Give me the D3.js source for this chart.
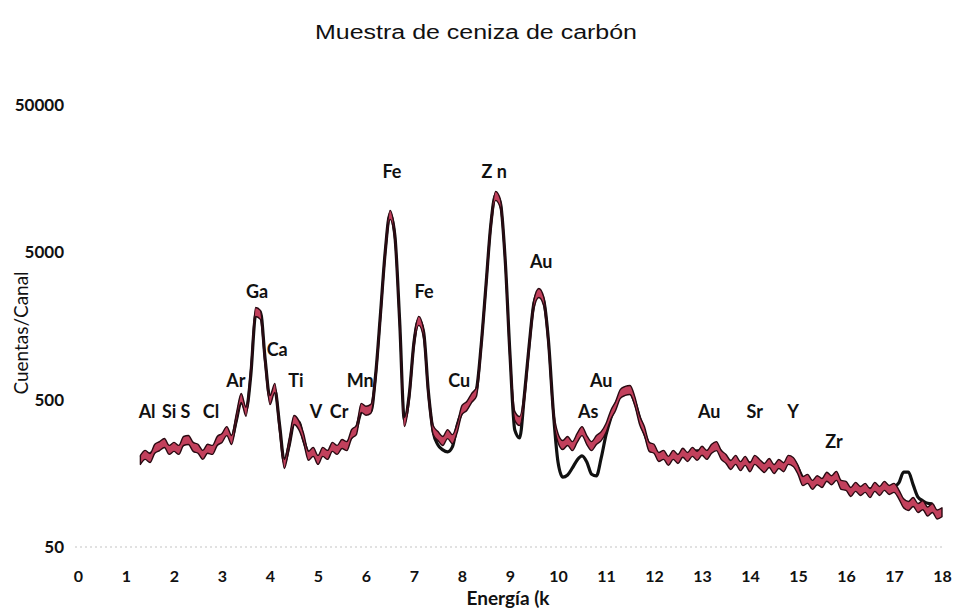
<!DOCTYPE html>
<html>
<head>
<meta charset="utf-8">
<script src="https://cdn.jsdelivr.net/npm/d3@7"></script>
<style>
  html, body { margin: 0; padding: 0; background: #fff; }
  svg { display: block; }
</style>
</head>
<body>
<svg id="chart" width="957" height="609"></svg>
<script>
// Spectrum channels: first energy (keV) and spacing between channels
const energyStart = 1.3;
const energyStep = 0.1;

// Measured counts per channel, 1.3 – 18.0 keV
const measuredCounts = [
  195, 211, 201, 232, 242, 254, 228, 239, 228, 262,   // 1.3 – 2.2
  266, 239, 232, 211, 232, 228, 262, 275, 306, 266,   // 2.3 – 3.2
  376, 513, 414, 771, 1970, 1880, 901, 497, 601, 321, // 3.3 – 4.2
  183, 254, 364, 336, 275, 208, 221, 195, 221, 211,   // 4.3 – 5.2
  239, 228, 250, 242, 292, 311, 440, 420, 433, 713,   // 5.3 – 6.2
  1821, 4953, 8975, 6461, 1685, 352, 521, 1213, 1712, 1396, // 6.3 – 7.2
  547, 311, 283, 262, 292, 270, 321, 426, 453, 513,   // 7.3 – 8.2
  564, 1157, 2957, 7555, 12075, 10655, 4370, 975, 388, 358, // 8.3 – 9.2
  521, 1140, 2232, 2650, 2339, 1226, 414, 275, 246, 262, // 9.3 – 10.2
  242, 275, 306, 266, 242, 266, 283, 321, 394, 453,   // 10.3 – 11.2
  547, 573, 582, 489, 364, 306, 239, 232, 204, 211,   // 11.3 – 12.2
  192, 211, 198, 218, 204, 221, 208, 225, 211, 232,   // 12.3 – 13.2
  242, 211, 198, 180, 195, 177, 192, 174, 195, 183,   // 13.3 – 14.2
  172, 186, 169, 183, 174, 195, 189, 167, 140, 145,   // 14.3 – 15.2
  132, 142, 136, 150, 142, 152, 132, 130, 118, 128,   // 15.3 – 16.2
  120, 126, 116, 128, 120, 130, 122, 126, 114, 99,    // 16.3 – 17.2
  95, 101, 92, 96, 87, 92, 83, 86                     // 17.3 – 18.0
];

// Fitted spectrum per channel, 1.3 – 17.8 keV
const fitCounts = [
  201, 208, 214, 225, 239, 242, 235, 228, 235, 250,   // 1.3 – 2.2
  258, 246, 228, 221, 225, 235, 254, 279, 297, 275,   // 2.3 – 3.2
  364, 489, 426, 735, 1880, 1970, 931, 513, 582, 336, // 3.3 – 4.2
  189, 246, 347, 352, 266, 218, 211, 204, 211, 221,   // 4.3 – 5.2
  228, 235, 242, 254, 279, 321, 414, 440, 414, 735,   // 5.3 – 6.2
  1880, 5030, 9115, 6560, 1738, 364, 538, 1226, 1738, 1440, // 6.3 – 7.2
  564, 302, 246, 228, 221, 239, 336, 414, 467, 497,   // 7.3 – 8.2
  582, 1176, 3000, 7670, 12260, 10820, 4437, 1006, 311, 275, // 8.3 – 9.2
  538, 1176, 2268, 2690, 2376, 1271, 426, 189, 149, 154, // 9.3 – 10.2
  172, 195, 208, 189, 156, 152, 201, 288, 376, 460,   // 10.3 – 11.2
  538, 582, 564, 482, 376, 297, 246, 225, 211, 204,   // 11.3 – 12.2
  201, 204, 208, 211, 214, 221, 225, 225, 221, 228,   // 12.3 – 13.2
  239, 221, 201, 189, 186, 186, 186, 186, 189, 186,   // 13.3 – 14.2
  180, 177, 177, 180, 183, 189, 192, 172, 147, 138,   // 14.3 – 15.2
  138, 140, 142, 145, 147, 147, 136, 128, 124, 124,   // 15.3 – 16.2
  124, 124, 124, 124, 124, 126, 126, 128, 136, 161,   // 16.3 – 17.2
  161, 132, 109, 103, 99, 98                          // 17.3 – 17.8
];

// Axis ticks
const xTickValues = [0, 1, 2, 3, 4, 5, 6, 7, 8, 9, 10, 11, 12, 13, 14, 15, 16, 17, 18];
const yTickValues = [50, 500, 5000, 50000];

// Element labels: text, energy (keV) and count level where the label sits
const elementLabels = [
  { text: "Al",  energy: 1.44,  counts: 414 },
  { text: "Si",  energy: 1.90,  counts: 414 },
  { text: "S",   energy: 2.24,  counts: 414 },
  { text: "Cl",  energy: 2.77,  counts: 414 },
  { text: "Ar",  energy: 3.29,  counts: 670 },
  { text: "Ga",  energy: 3.73,  counts: 2690 },
  { text: "Ca",  energy: 4.15,  counts: 1100 },
  { text: "Ti",  energy: 4.54,  counts: 670 },
  { text: "V",   energy: 4.96,  counts: 414 },
  { text: "Cr",  energy: 5.44,  counts: 414 },
  { text: "Mn",  energy: 5.88,  counts: 670 },
  { text: "Fe",  energy: 6.54,  counts: 17570 },
  { text: "Fe",  energy: 7.21,  counts: 2710 },
  { text: "Cu",  energy: 7.94,  counts: 670 },
  { text: "Z n", energy: 8.67,  counts: 17570 },
  { text: "Au",  energy: 9.65,  counts: 4300 },
  { text: "Au",  energy: 10.90, counts: 670 },
  { text: "As",  energy: 10.63, counts: 414 },
  { text: "Au",  energy: 13.15, counts: 414 },
  { text: "Sr",  energy: 14.10, counts: 414 },
  { text: "Y",   energy: 14.90, counts: 414 },
  { text: "Zr",  energy: 15.75, counts: 258 }
];

const titleText = "Muestra de ceniza de carbón";
const xTitle = "Energía (k";
const yTitle = "Cuentas/Canal";

// ---- layout ----
const plot = { left: 78, right: 942, top: 105, bottom: 547 };
const svg = d3.select("#chart");

const x = d3.scaleLinear().domain([0, 18]).range([plot.left, plot.right]);
const y = d3.scaleLog().domain([50, 50000]).range([plot.bottom, plot.top]);

const toPoints = arr => arr.map((c, i) => ({ e: energyStart + i * energyStep, c }));
const measured = toPoints(measuredCounts);
const fit = toPoints(fitCounts);

const labelFont = "Lato, 'Open Sans', sans-serif";

// Title
svg.append("text")
  .attr("x", 476).attr("y", 39)
  .attr("text-anchor", "middle")
  .attr("font-family", "'Liberation Sans', Arial, sans-serif")
  .attr("font-size", 20)
  .attr("textLength", 322)
  .attr("lengthAdjust", "spacingAndGlyphs")
  .attr("fill", "#111")
  .text(titleText);

// Dotted baseline along the bottom of the plot
svg.append("line")
  .attr("x1", x(0) - 3).attr("x2", x(18))
  .attr("y1", y(50)).attr("y2", y(50))
  .attr("stroke", "#c4c4c4")
  .attr("stroke-width", 1.2)
  .attr("stroke-dasharray", "2,3");

// X axis labels
const xAxis = d3.axisBottom(x).tickValues(xTickValues).tickSize(0).tickPadding(24);
const gx = svg.append("g").attr("transform", `translate(0,${plot.bottom})`).call(xAxis);
gx.select(".domain").remove();
gx.selectAll("text")
  .attr("font-family", labelFont).attr("font-size", 16).attr("font-weight", 700)
  .attr("fill", "#111");

// Y axis labels (log scale)
const yAxis = d3.axisLeft(y).tickValues(yTickValues).tickFormat(d3.format("d")).tickSize(0).tickPadding(14);
const gy = svg.append("g").attr("transform", `translate(${plot.left},0)`).call(yAxis);
gy.select(".domain").remove();
gy.selectAll("text")
  .attr("font-family", labelFont).attr("font-size", 17).attr("font-weight", 700)
  .attr("fill", "#111");

// Axis titles
svg.append("text")
  .attr("x", 508).attr("y", 605)
  .attr("text-anchor", "middle")
  .attr("font-family", labelFont).attr("font-size", 19).attr("font-weight", 700)
  .attr("fill", "#111")
  .text(xTitle);

svg.append("text")
  .attr("transform", "translate(28,333) rotate(-90)")
  .attr("text-anchor", "middle")
  .attr("font-family", labelFont).attr("font-size", 19).attr("font-weight", 400)
  .attr("fill", "#111")
  .text(yTitle);

// Element labels (under the curves)
svg.append("g").selectAll("text")
  .data(elementLabels)
  .join("text")
  .attr("x", d => x(d.energy))
  .attr("y", d => y(d.counts))
  .attr("dy", "0.36em")
  .attr("text-anchor", "middle")
  .attr("font-family", labelFont).attr("font-size", 18).attr("font-weight", 700)
  .attr("fill", "#111")
  .text(d => d.text);

// Fitted spectrum: black line
const fitLine = d3.line()
  .x(d => x(d.e))
  .y(d => y(d.c))
  .curve(d3.curveMonotoneX);

svg.append("path")
  .datum(fit)
  .attr("d", fitLine)
  .attr("fill", "none")
  .attr("stroke", "#111")
  .attr("stroke-width", 3.2)
  .attr("stroke-linejoin", "round");

// Measured spectrum: thick noisy red band with dark edges
const bandHalf = 4.5;
const measuredBand = d3.area()
  .x(d => x(d.e))
  .y0(d => y(d.c) + bandHalf)
  .y1(d => y(d.c) - bandHalf)
  .curve(d3.curveMonotoneX);

svg.append("path")
  .datum(measured)
  .attr("d", measuredBand)
  .attr("fill", "#c2405c")
  .attr("stroke", "#2a0a12")
  .attr("stroke-width", 1.4)
  .attr("stroke-linejoin", "round");
</script>
</body>
</html>
